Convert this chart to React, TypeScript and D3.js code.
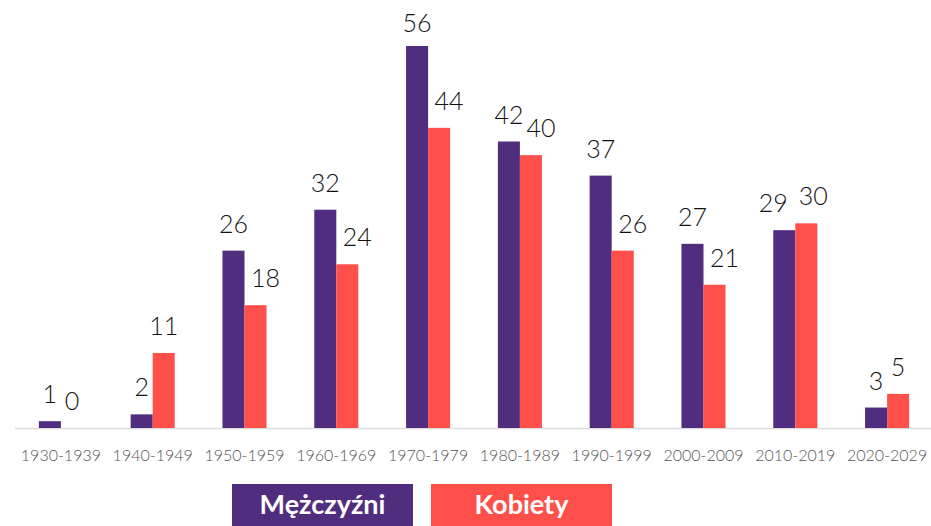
import { useEffect, useRef } from 'react';
import * as d3 from 'd3';

const decades = ['1930-1939', '1940-1949', '1950-1959', '1960-1969', '1970-1979', '1980-1989', '1990-1999', '2000-2009', '2010-2019', '2020-2029'];
const men = [1, 2, 26, 32, 56, 42, 37, 27, 29, 3];
const women = [0, 11, 18, 24, 44, 40, 26, 21, 30, 5];
const seriesNames = ['Mężczyźni', 'Kobiety'];
const colors = ['#512d7f', '#ff4f4b'];

const W = 931;
const H = 526;

const App = () => {
  const svgRef = useRef<SVGSVGElement>(null);

  useEffect(() => {
    if (!svgRef.current) return;
    const svg = d3.select(svgRef.current);
    svg.selectAll('*').remove();

    const baseline = 428;
    const x = d3.scaleBand().domain(decades).range([15, 933]).paddingInner(0.52).paddingOuter(0.26);
    const sub = d3.scaleBand().domain(seriesNames).range([0, x.bandwidth()]);
    const y = d3.scaleLinear().domain([0, 56]).range([baseline, 46]);

    // axis line
    svg.append('line')
      .attr('x1', 15).attr('x2', W)
      .attr('y1', baseline + 0.5).attr('y2', baseline + 0.5)
      .attr('stroke', '#dcdcdc').attr('stroke-width', 1.5);

    const groups = svg.selectAll('.grp')
      .data(decades)
      .enter().append('g')
      .attr('transform', d => `translate(${x(d)},0)`);

    // nudge labels sideways when both in a pair are two digits wide
    const both2 = (i: number) => men[i] >= 10 && women[i] >= 10;
    const dxFor = (si: number, i: number) => {
      if (!both2(i)) return 0;
      if (si === 1) return women[i] >= men[i] ? 7 : 10;
      return women[i] >= men[i] ? -11 : 0;
    };

    [men, women].forEach((vals, si) => {
      groups.append('rect')
        .attr('x', sub(seriesNames[si]) || 0)
        .attr('y', (_, i) => y(vals[i]))
        .attr('width', sub.bandwidth())
        .attr('height', (_, i) => baseline - y(vals[i]))
        .attr('fill', colors[si]);

      groups.append('text')
        .attr('x', (_, i) => (sub(seriesNames[si]) || 0) + sub.bandwidth() / 2 + dxFor(si, i))
        .attr('y', (_, i) => Math.max(y(vals[i]) - 18, 32))
        .attr('text-anchor', 'middle')
        .attr('font-family', 'Lato')
        .attr('font-weight', 300)
        .attr('font-size', 25)
        .attr('fill', '#111')
        .text((_, i) => vals[i]);
    });

    groups.append('text')
      .attr('x', x.bandwidth() / 2)
      .attr('y', 461)
      .attr('text-anchor', 'middle')
      .attr('font-family', 'Lato')
      .attr('font-weight', 300)
      .attr('font-size', 16)
      .attr('fill', '#555')
      .text(d => d);

    // legend
    const legend = svg.append('g');
    seriesNames.forEach((name, i) => {
      const lx = 232 + i * 199;
      legend.append('rect')
        .attr('x', lx).attr('y', 484)
        .attr('width', 181).attr('height', 42)
        .attr('fill', colors[i]);
      legend.append('text')
        .attr('x', lx + 90.5).attr('y', 514)
        .attr('text-anchor', 'middle')
        .attr('font-family', 'Lato')
        .attr('font-weight', 700)
        .attr('font-size', 27)
        .attr('fill', '#fff')
        .text(name);
    });
  }, []);

  return (
    <svg ref={svgRef} width={W} height={H}
      style={{ position: 'absolute', left: 0, top: 0, background: '#fff' }} />
  );
};

export default App;
